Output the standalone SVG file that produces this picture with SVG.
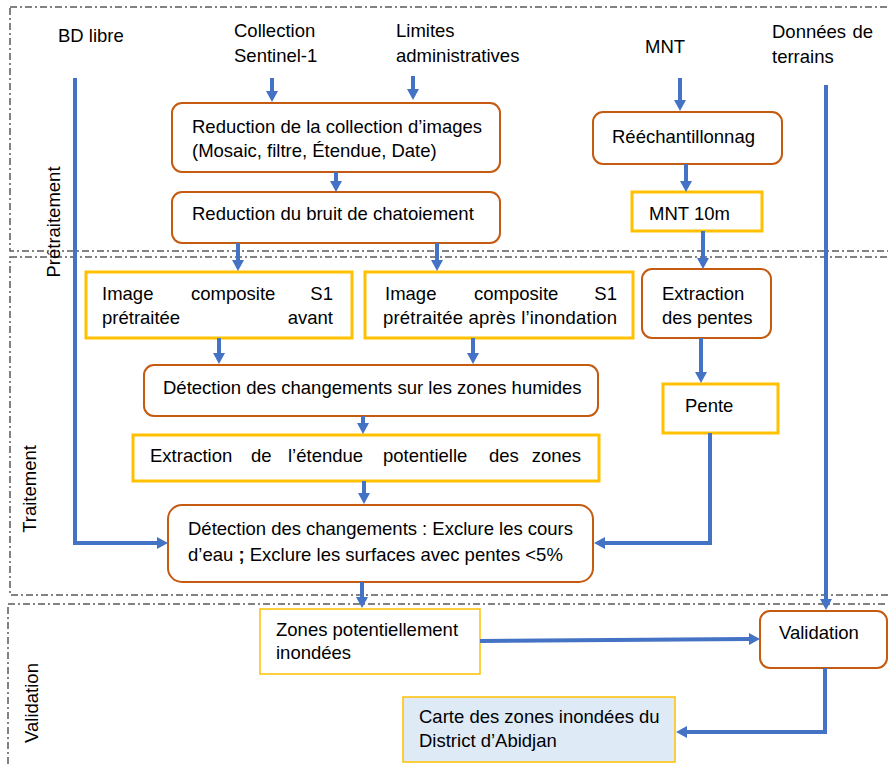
<svg xmlns="http://www.w3.org/2000/svg" width="888" height="764" viewBox="0 0 888 764">
<style>
text{font-family:"Liberation Sans",Arial,sans-serif;font-size:18.5px;fill:#000}
.frame{fill:none;stroke:#595959;stroke-width:1.5;stroke-dasharray:7 3 2 3}
.ob{fill:#fff;stroke:#C55A11;stroke-width:2}
.yb{fill:#fff;stroke:#FFC000;stroke-width:3}
.yt{fill:#fff;stroke:#FFC000;stroke-width:1.5}
.cb{fill:#DEEBF7;stroke:#FFC000;stroke-width:1.5}
.c{fill:none;stroke:#4472C4;stroke-width:4;marker-end:url(#ah)}
</style>
<defs>
<marker id="ah" viewBox="0 0 11 12" markerWidth="11" markerHeight="12" refX="0" refY="6" orient="auto" markerUnits="userSpaceOnUse">
<path d="M0,0 L11,6 L0,12 z" fill="#4472C4"/>
</marker>
</defs>
<rect width="888" height="764" fill="#fff"/>
<g id="frames">
<rect class="frame" x="10" y="7" width="900" height="244"/>
<rect class="frame" x="10" y="257" width="900" height="338"/>
<rect class="frame" x="8" y="604" width="900" height="200"/>
<text transform="translate(60,222) rotate(-90)" text-anchor="middle">Prétraitement</text>
<text transform="translate(36,489) rotate(-90)" text-anchor="middle">Traitement</text>
<text transform="translate(38,703) rotate(-90)" text-anchor="middle">Validation</text>
</g>
<g id="inputs">
<text id="bd" x="58" y="42">BD libre</text>
<text id="sentinel" x="234" y="37"><tspan x="234">Collection</tspan><tspan x="234" y="62">Sentinel-1</tspan></text>
<text id="limites" x="396" y="37"><tspan x="396">Limites</tspan><tspan x="396" y="62">administratives</tspan></text>
<text id="mnt" x="645" y="53">MNT</text>
<text id="donnees" y="38"><tspan x="772">Données</tspan><tspan x="873" text-anchor="end">de</tspan><tspan x="772" y="63">terrains</tspan></text>
</g>
<g id="n-reduc1"><rect class="ob" x="172" y="103" width="328" height="69" rx="10"/>
<text x="192" y="133"><tspan x="192">Reduction de la collection d’images</tspan><tspan x="192" y="157">(Mosaic, filtre, Étendue, Date)</tspan></text></g>
<g id="n-reduc2"><rect class="ob" x="172" y="192" width="328" height="51" rx="10"/>
<text x="192" y="220">Reduction du bruit de chatoiement</text></g>
<g id="n-reech"><rect class="ob" x="593" y="112" width="189" height="52" rx="10"/>
<text x="612" y="143">Rééchantillonnag</text></g>
<g id="n-mnt10"><rect class="yb" x="632" y="192" width="130" height="39"/>
<text x="649" y="220">MNT 10m</text></g>
<g id="n-avant"><rect class="yb" x="86" y="272" width="266" height="66"/>
<text y="300"><tspan x="102">Image</tspan><tspan x="191">composite</tspan><tspan x="333" text-anchor="end">S1</tspan></text>
<text y="324"><tspan x="102">prétraitée</tspan><tspan x="333" text-anchor="end">avant</tspan></text></g>
<g id="n-apres"><rect class="yb" x="365" y="272" width="268" height="66"/>
<text y="300"><tspan x="385">Image</tspan><tspan x="474">composite</tspan><tspan x="617" text-anchor="end">S1</tspan></text>
<text x="383" y="324" textLength="234" lengthAdjust="spacing">prétraitée après l’inondation</text></g>
<g id="n-extpentes"><rect class="ob" x="642" y="269" width="129" height="69" rx="10"/>
<text x="662" y="300"><tspan x="662">Extraction</tspan><tspan x="662" y="324">des pentes</tspan></text></g>
<g id="n-detect1"><rect class="ob" x="144" y="365" width="454" height="51" rx="10"/>
<text x="163" y="394">Détection des changements sur les zones humides</text></g>
<g id="n-pente"><rect class="yb" x="663" y="384" width="115" height="49"/>
<text x="685" y="412">Pente</text></g>
<g id="n-extetendue"><rect class="yb" x="133" y="435" width="466" height="46"/>
<text y="462"><tspan x="150">Extraction</tspan><tspan x="251">de</tspan><tspan x="288">l’étendue</tspan><tspan x="383">potentielle</tspan><tspan x="489">des</tspan><tspan x="581" text-anchor="end">zones</tspan></text></g>
<g id="n-detect2"><rect class="ob" x="168" y="505" width="425" height="77" rx="14"/>
<text x="188" y="535" textLength="385" lengthAdjust="spacing">Détection des changements : Exclure les cours</text>
<text x="188" y="561">d’eau <tspan font-weight="bold">;</tspan> Exclure les surfaces avec pentes &lt;5%</text></g>
<g id="n-zones"><rect class="yt" x="260" y="609" width="220" height="65"/>
<text x="276" y="636"><tspan x="276">Zones potentiellement</tspan><tspan x="276" y="659">inondées</tspan></text></g>
<g id="n-validation"><rect class="ob" x="760" y="611" width="127" height="57" rx="10"/>
<text x="779" y="639">Validation</text></g>
<g id="n-carte"><rect class="cb" x="403" y="697" width="272" height="65"/>
<text x="419" y="723"><tspan x="419">Carte des zones inondées du</tspan><tspan x="419" y="747">District d’Abidjan</tspan></text></g>
<g id="connectors">
<path class="c" d="M272,78 V91"/>
<path class="c" d="M413,76 V89"/>
<path class="c" d="M336,172 V181"/>
<path class="c" d="M238,243 V260"/>
<path class="c" d="M437,243 V260"/>
<path class="c" d="M680,78 V100"/>
<path class="c" d="M686,164 V181"/>
<path class="c" d="M703,231 V258"/>
<path class="c" d="M219,338 V353"/>
<path class="c" d="M473,338 V353"/>
<path class="c" d="M701,338 V372"/>
<path class="c" d="M363,416 V423"/>
<path class="c" d="M364,481 V493"/>
<path class="c" d="M75,78 V543 H157"/>
<path class="c" d="M710,433 V543 H605"/>
<path class="c" d="M826,85 V599"/>
<path class="c" d="M362,582 V597"/>
<path class="c" d="M480,641 L749,639"/>
<path class="c" d="M825,668 V732 H687"/>
</g>
</svg>
